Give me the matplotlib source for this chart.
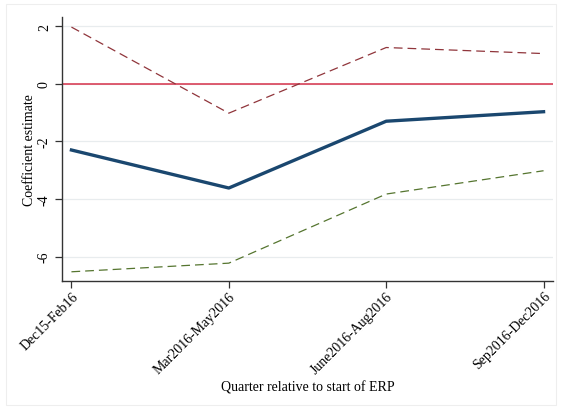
import matplotlib.pyplot as plt
from matplotlib.patches import Rectangle

quarters = ["Dec15-Feb16", "Mar2016-May2016", "June2016-Aug2016", "Sep2016-Dec2016"]
coef = [-2.30, -3.62, -1.30, -0.97]
ci_upper = [1.97, -1.02, 1.26, 1.05]
ci_lower = [-6.53, -6.23, -3.83, -3.02]
y_ticks = [-6, -4, -2, 0, 2]

plt.rcParams["font.family"] = ["Liberation Serif", "DejaVu Serif"]

fig = plt.figure(figsize=(5.61, 4.10), dpi=100)
ax = fig.add_axes([62 / 561, 128 / 410, 491 / 561, 264 / 410])

# faint outer graph border
fig.patches.append(Rectangle((6 / 561, 0.01), 550 / 561, 0.977, transform=fig.transFigure,
                             fill=False, edgecolor="#eeeeee", linewidth=0.8))

x = list(range(len(quarters)))

for yt in y_ticks:
    ax.axhline(yt, color="#e8ecee", linewidth=0.9, zorder=0)
ax.axhline(0, color="#d6314a", linewidth=1.1, zorder=1)

ax.plot(x, ci_upper, color="#90353b", linewidth=0.9, dashes=(7, 4), zorder=2)
ax.plot(x, ci_lower, color="#55752f", linewidth=0.9, dashes=(7, 4), zorder=2)
ax.plot(x, coef, color="#1a476f", linewidth=2.4, zorder=3)

ax.set_xlim(-0.06, 3.06)
ax.set_ylim(-6.85, 2.32)
ax.set_yticks(y_ticks)
ax.set_yticklabels([str(v) for v in y_ticks], rotation=90, va="center", fontsize=10)
ax.set_xticks(x)
ax.set_xticklabels(quarters, rotation=45, ha="right", rotation_mode="anchor", fontsize=10)

for side in ["top", "right"]:
    ax.spines[side].set_visible(False)
for side in ["left", "bottom"]:
    ax.spines[side].set_color("#333333")
    ax.spines[side].set_linewidth(1.0)
ax.tick_params(axis="both", length=5, width=0.9, color="#333333", pad=3)
ax.tick_params(axis="x", pad=1)

ax.set_ylabel("Coefficient estimate", fontsize=10)
ax.set_xlabel("Quarter relative to start of ERP", fontsize=10)
ax.yaxis.set_label_coords(-0.052, 0.5)
ax.xaxis.set_label_coords(0.5, -0.375)

fig.savefig("out.png", dpi=100)
